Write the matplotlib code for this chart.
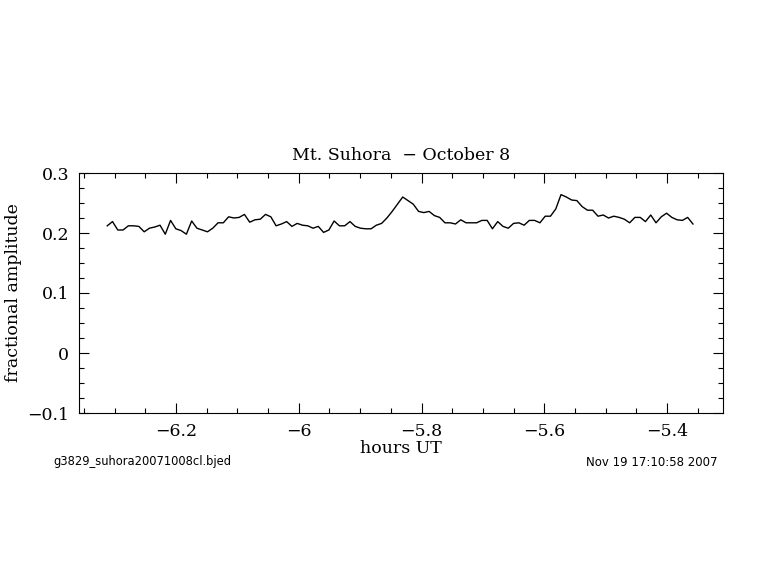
import numpy as np
import matplotlib
matplotlib.use('Agg')
import matplotlib.pyplot as plt
from matplotlib.ticker import MultipleLocator

# light curve amplitude
amplitude = [
    0.212, 0.219, 0.205, 0.205, 0.212, 0.212, 0.211, 0.202, 0.208, 0.210,
    0.213, 0.198, 0.221, 0.207, 0.204, 0.198, 0.220, 0.208, 0.205, 0.202,
    0.208, 0.217, 0.217, 0.227, 0.225, 0.226, 0.231, 0.218, 0.222, 0.223,
    0.231, 0.227, 0.212, 0.215, 0.219, 0.211, 0.216,
    0.213, 0.212, 0.208, 0.211, 0.201, 0.205, 0.220, 0.212, 0.212, 0.219,
    0.211, 0.208, 0.207, 0.207, 0.213, 0.216, 0.225, 0.236, 0.248, 0.260,
    0.254, 0.248, 0.236, 0.234, 0.236, 0.229, 0.226, 0.217, 0.217, 0.215,
    0.222, 0.217, 0.217, 0.217, 0.221, 0.221, 0.207, 0.219,
    0.211, 0.208, 0.216, 0.217, 0.213, 0.221, 0.221, 0.217, 0.228, 0.228,
    0.240, 0.264, 0.260, 0.255, 0.254, 0.244, 0.238, 0.238, 0.228, 0.230,
    0.225, 0.228, 0.226, 0.223, 0.217, 0.226, 0.226, 0.219, 0.230, 0.217,
    0.227, 0.233, 0.226, 0.222, 0.221, 0.226, 0.215,
]
t_start = -6.312   # hours UT of first point
t_step = 0.008595  # sampling interval in hours
hours = t_start + t_step * np.arange(len(amplitude))

title = 'Mt. Suhora  \u2212 October 8'
file_label = 'g3829_suhora20071008cl.bjed'
date_label = 'Nov 19 17:10:58 2007'

plt.rcParams['font.family'] = ['DejaVu Serif']
plt.rcParams['axes.unicode_minus'] = True

fig = plt.figure(figsize=(7.68, 5.74), dpi=100)
ax = fig.add_axes([79 / 768, 1 - 413 / 574, 644 / 768, 240 / 574])

ax.plot(hours, amplitude, color='black', linewidth=1.0)

ax.set_xlim(-6.358, -5.309)
ax.set_ylim(-0.1, 0.3)
ax.xaxis.set_major_locator(MultipleLocator(0.2))
ax.xaxis.set_minor_locator(MultipleLocator(0.05))
ax.yaxis.set_major_locator(MultipleLocator(0.1))
ax.yaxis.set_minor_locator(MultipleLocator(0.025))
ax.xaxis.set_major_formatter(plt.FuncFormatter(lambda v, p: f'{v:g}'.replace('-', '\u2212')))
ax.yaxis.set_major_formatter(plt.FuncFormatter(lambda v, p: ('0' if abs(v) < 1e-9 else f'{v:.1f}').replace('-', '\u2212')))

ax.tick_params(which='both', direction='in', top=True, right=True, labelsize=12.5, width=0.8)
ax.tick_params(which='major', length=7, pad=7)
ax.tick_params(which='minor', length=3.5)
for s in ax.spines.values():
    s.set_linewidth(0.8)

ax.set_title(title, fontsize=12.5, pad=9)
ax.set_xlabel('hours UT', fontsize=12.5, labelpad=0)
ax.set_ylabel('fractional amplitude', fontsize=12.5, labelpad=4)

fig.text(53 / 768, 1 - 462 / 574, file_label, fontsize=8.3, family='DejaVu Sans', va='center', ha='left')
fig.text(718 / 768, 1 - 462 / 574, date_label, fontsize=8.5, family='DejaVu Sans', va='center', ha='right')

fig.savefig('out.png', dpi=100)
